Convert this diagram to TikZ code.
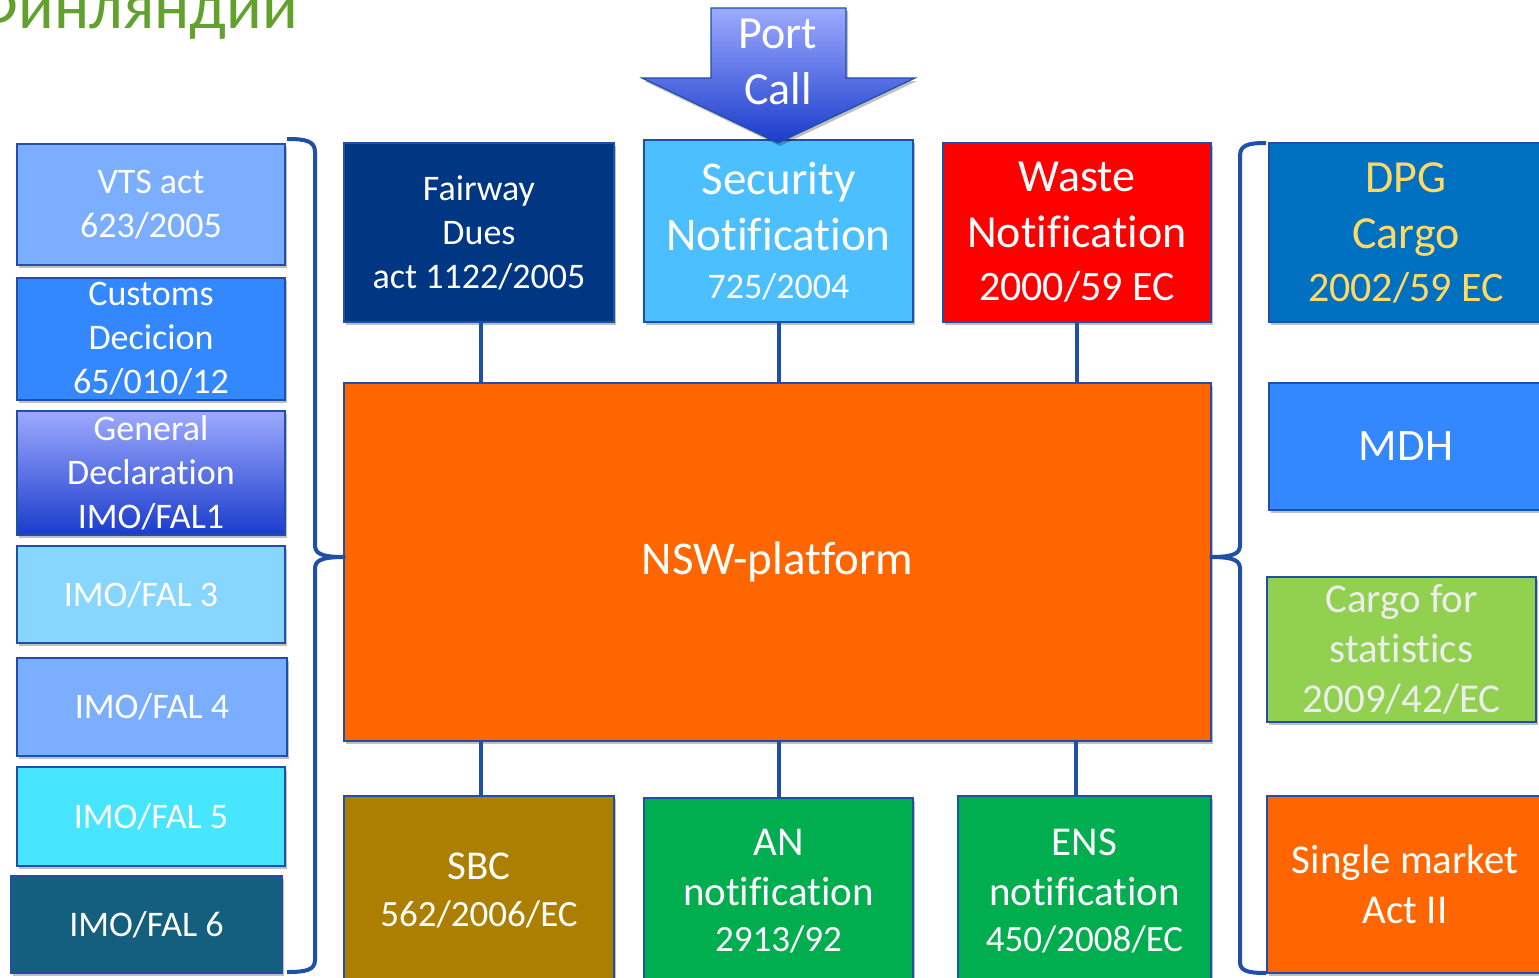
\documentclass[tikz,border=0pt]{standalone}
\usepackage{fontspec}
\setmainfont{Carlito}[Ligatures=NoCommon]
\usetikzlibrary{shadows,calc}
\definecolor{bord}{HTML}{1F4FA6}
\definecolor{titlegreen}{HTML}{62A12D}
\definecolor{cVTS}{HTML}{7BAEFE}
\definecolor{cCust}{HTML}{3388FF}
\definecolor{gdTop}{HTML}{9DAAFF}
\definecolor{gdBot}{HTML}{1A3CCB}
\definecolor{cFalThree}{HTML}{87D6FF}
\definecolor{cFalFive}{HTML}{48E5FF}
\definecolor{cFalSix}{HTML}{145F7E}
\definecolor{cFair}{HTML}{003682}
\definecolor{cSec}{HTML}{4BBFFF}
\definecolor{cWaste}{HTML}{FF0000}
\definecolor{cNSW}{HTML}{FF6600}
\definecolor{cSBC}{HTML}{AD7F00}
\definecolor{cGreen}{HTML}{00AD4F}
\definecolor{cDPG}{HTML}{0070C0}
\definecolor{cDPGtext}{HTML}{FFD966}
\definecolor{cCfs}{HTML}{92D050}
\definecolor{cCfsText}{HTML}{EDEDED}
\tikzset{
  box/.style={draw=bord, line width=2.5pt, inner sep=0pt, align=center, text=white,
    drop shadow={shadow xshift=2pt, shadow yshift=-3pt, opacity=0.25, fill=black}},
  conn/.style={draw=bord, line width=4pt},
  bracepath/.style={draw=bord, line width=4pt, line join=round},
  fA/.style={font=\fontsize{36}{44}\selectfont},
  fB/.style={font=\fontsize{46}{56}\selectfont},
  fC/.style={font=\fontsize{41}{50}\selectfont},
}
\begin{document}
\begin{tikzpicture}[x=1pt, y=-1pt]
\useasboundingbox (0,0) rectangle (1539,977);

% title (cut off by the page edge)
\node[anchor=base east, text=titlegreen, font=\fontsize{66}{70}\selectfont, inner sep=0pt] (title) at (298,28) {Финляндии};

% left column
\node[box, fill=cVTS, minimum width=268pt, minimum height=121pt, fA] (vts) at (151,204.5) {VTS act\\623/2005};
\node[box, fill=cCust, minimum width=268pt, minimum height=122pt, fA] (cust) at (151,339) {Customs\\Decicion\\65/010/12};
\node[box, top color=gdTop, bottom color=gdBot, minimum width=268pt, minimum height=124pt, fA] (gd) at (151,473) {General\\Declaration\\IMO/FAL1};
\node[box, fill=cFalThree, minimum width=268pt, minimum height=97pt, fA] (falthree) at (151,594.5) {\hspace*{-20pt}IMO/FAL 3};
\node[box, fill=cVTS, minimum width=270pt, minimum height=98pt, fA] (falfour) at (152,707) {IMO/FAL 4};
\node[box, fill=cFalFive, minimum width=268pt, minimum height=99pt, fA] (falfive) at (151,816.5) {IMO/FAL 5};
\node[box, fill=cFalSix, minimum width=271pt, minimum height=97pt, fA] (falsix) at (146.5,924.5) {IMO/FAL 6};

% centre
\node[box, fill=cFair, minimum width=270pt, minimum height=179pt, fA] (fair) at (479,232.5) {Fairway\\Dues\\act 1122/2005};
\node[box, fill=cSec, minimum width=269pt, minimum height=182pt, font=\fontsize{47}{56}\selectfont] (sec) at (778.5,231) {Security\\Notification\\[-8pt]{\fontsize{36}{44}\selectfont 725/2004}};
\node[box, fill=cWaste, minimum width=268pt, minimum height=179pt, fB] (waste) at (1077,232.5) {Waste\\Notification\\[-3pt]{\fontsize{42}{50}\selectfont 2000/59 EC}};
\node[box, fill=cNSW, minimum width=867pt, minimum height=358pt, font=\fontsize{47}{56}\selectfont] (nsw) at (777.5,562) {NSW-platform};
\node[box, fill=cSBC, minimum width=270pt, minimum height=189pt, font=\fontsize{41}{47}\selectfont] (sbc) at (479,890.5) {SBC\\{\fontsize{37}{44}\selectfont 562/2006/EC}};
\node[box, fill=cGreen, minimum width=269pt, minimum height=187pt, fC] (an) at (778.5,891.5) {AN\\notification\\[-4pt]{\fontsize{37}{44}\selectfont 2913/92}};
\node[box, fill=cGreen, minimum width=253pt, minimum height=189pt, fC] (ens) at (1084.5,890.5) {ENS\\notification\\[-4pt]{\fontsize{37}{44}\selectfont 450/2008/EC}};

% right column
\node[box, fill=cDPG, minimum width=274pt, minimum height=179pt, fB, text=cDPGtext] (dpg) at (1406,232.5) {DPG\\Cargo\\[-3pt]{\fontsize{42}{50}\selectfont 2002/59 EC}};
\node[box, fill=cCust, minimum width=274pt, minimum height=127pt, font=\fontsize{45}{54}\selectfont] (mdh) at (1406,446.5) {MDH};
\node[box, fill=cCfs, minimum width=269pt, minimum height=145pt, fC, text=cCfsText] (cfs) at (1401.5,649.5) {Cargo for\\statistics\\2009/42/EC};
\node[box, fill=cNSW, minimum width=276pt, minimum height=177pt, fC] (sm) at (1405,884.5) {Single market\\Act II};

% Port Call arrow
\path[top color=gdTop, bottom color=gdBot, draw=bord, line width=1.2pt, line join=miter,
  drop shadow={shadow xshift=2pt, shadow yshift=-3pt, opacity=0.25, fill=black}]
  (711,8) -- (846,8) -- (846,78) -- (915,78) -- (778,143) -- (642,78) -- (711,78) -- cycle;
\node[align=center, text=white, font=\fontsize{46}{56}\selectfont, inner sep=0pt] (pc) at (778,62) {Port\\Call};

% connectors
\draw[conn] (fair.south -| 481,0) -- (nsw.north -| 481,0);
\draw[conn] (sec.south) -- (sec.south |- nsw.north);
\draw[conn] (waste.south) -- (waste.south |- nsw.north);
\draw[conn] (nsw.south -| 481,0) -- (sbc.north -| 481,0);
\draw[conn] (nsw.south -| an.north) -- (an.north);
\draw[conn] (nsw.south -| 1076,0) -- (ens.north -| 1076,0);

% left brace
\coordinate (lbt) at (287,139);
\coordinate (lbtip) at (344,557);
\coordinate (lbb) at (287,972);
\draw[bracepath] (lbt) .. controls (306,139) and (315,141) .. (315,152) -- (315,545)
  .. controls (315,553) and (320,557) .. (lbtip)
  .. controls (320,557) and (315,561) .. (315,569) -- (315,960)
  .. controls (315,970) and (306,972) .. (lbb);

% right brace
\coordinate (rbt) at (1266,143);
\coordinate (rbtip) at (1211,557);
\coordinate (rbb) at (1266,973);
\draw[bracepath] (rbt) .. controls (1248,143) and (1240,145) .. (1240,156) -- (1240,545)
  .. controls (1240,553) and (1235,557) .. (rbtip)
  .. controls (1235,557) and (1240,561) .. (1240,569) -- (1240,962)
  .. controls (1240,971) and (1248,973) .. (rbb);
\end{tikzpicture}
\end{document}
